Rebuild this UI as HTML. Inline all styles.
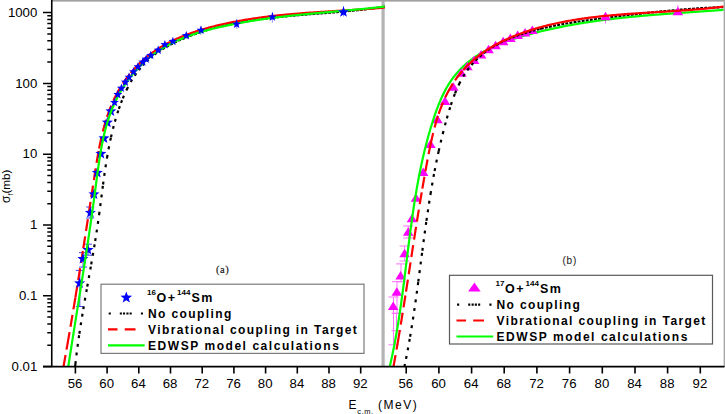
<!DOCTYPE html>
<html><head><meta charset="utf-8"><style>
html,body{margin:0;padding:0;background:#fff;}
body{width:725px;height:414px;overflow:hidden;}
svg{display:block;}
text{font-family:"Liberation Sans",sans-serif;}
</style></head><body>
<svg width="725" height="414" viewBox="0 0 725 414">
<defs><clipPath id="clipL"><rect x="52.5" y="1.5" width="332.2" height="364.5"/></clipPath>
<clipPath id="clipR"><rect x="384.7" y="1.5" width="338.9" height="364.5"/></clipPath></defs>
<rect x="0" y="0" width="725" height="414" fill="#fff"/>

<rect x="381.5" y="0" width="3.2" height="366" fill="#b4b4b4"/>
<g clip-path="url(#clipL)">
<path d="M88.0,244.2V255.2M84.0,244.2H92.0M84.0,255.2H92.0M83.0,252.6V267.1M79.0,252.6H87.0M79.0,267.1H87.0M79.8,270.4V306.5M75.8,270.4H83.8M75.8,306.5H83.8M90.2,207.0V218.0M86.2,207.0H94.2M86.2,218.0H94.2" stroke="#4040ff" stroke-width="1" fill="none"/>
<path d="M343.5,6.0V16.5M272.4,12.0V22.5M236.8,19.0V29.0M200.8,26.0V35.0" stroke="#7070ff" stroke-width="0.8"/>
<path d="M121.03,102.94 121.46,101.82 121.89,100.70 122.34,99.59 122.79,98.48 122.83,98.38M122.83,98.38 123.29,97.27 123.75,96.17 124.23,95.06 124.71,93.97 125.20,92.87 125.70,91.78 126.21,90.69 126.73,89.61 126.77,89.54M126.77,89.54 127.29,88.47 127.83,87.39 128.38,86.33 128.94,85.27 129.51,84.21 130.09,83.16 130.68,82.11 130.70,82.06M130.70,82.06 131.30,81.02 131.91,79.99 132.54,78.96 133.17,77.94 133.82,76.93 134.47,75.93 134.66,75.65M134.66,75.65 135.33,74.65 136.01,73.67 136.71,72.69 137.42,71.72 138.14,70.76 138.65,70.10M138.65,70.10 139.39,69.16 140.14,68.22 140.91,67.30 141.69,66.39 142.48,65.49 142.58,65.38M142.58,65.38 143.39,64.49 144.21,63.62 145.05,62.76 145.89,61.91 146.52,61.29M146.52,61.29 147.39,60.47 148.28,59.65 149.17,58.86 150.08,58.07 150.47,57.73M150.47,57.73 151.39,56.97 152.33,56.21 153.27,55.47 154.22,54.74 154.43,54.58M154.43,54.58 155.40,53.87 156.37,53.17 157.35,52.48 158.34,51.80 158.43,51.74M158.43,51.74 159.43,51.07 160.43,50.42 161.44,49.77 162.33,49.22M162.33,49.22 163.36,48.60 164.39,47.98 165.42,47.38 166.27,46.90M166.27,46.90 167.32,46.31 168.37,45.73 169.43,45.16 170.22,44.75M170.22,44.75 171.28,44.19 172.35,43.65 173.43,43.11 174.15,42.75M174.15,42.75 175.23,42.23 176.32,41.72 177.40,41.21 178.15,40.86M178.15,40.86 179.24,40.37 180.33,39.88 181.43,39.39 182.09,39.11M182.09,39.11 183.19,38.64 184.30,38.17 185.41,37.71 186.07,37.44M186.07,37.44 187.18,36.99 188.30,36.54 189.41,36.11 189.99,35.88M189.99,35.88 191.11,35.46 192.23,35.03 193.36,34.62 193.94,34.41M193.94,34.41 195.07,34.00 196.20,33.60 197.33,33.21 197.91,33.01M197.91,33.01 199.05,32.62 200.19,32.24 201.33,31.87 201.82,31.70M201.82,31.70 202.97,31.34 204.11,30.98 205.26,30.62 205.76,30.47M205.76,30.47 206.91,30.12 208.06,29.78 209.21,29.45 209.72,29.30M209.72,29.30 210.87,28.97 212.03,28.65 213.18,28.33 213.70,28.19M213.70,28.19 214.86,27.88 216.02,27.58 217.18,27.27 217.61,27.17M217.61,27.17 218.77,26.87 219.93,26.58 221.10,26.30 221.63,26.17M221.63,26.17 222.79,25.90 223.96,25.62 225.13,25.35 225.57,25.25M225.57,25.25 226.74,24.99 227.91,24.74 229.09,24.48 229.53,24.39M229.53,24.39 230.71,24.14 231.88,23.90 233.06,23.66 233.41,23.59M233.41,23.59 234.59,23.35 235.77,23.12 236.95,22.90 237.40,22.81M237.40,22.81 238.58,22.59 239.76,22.37 240.95,22.16 241.31,22.10M241.31,22.10 242.50,21.89 243.68,21.68 244.86,21.48 245.33,21.41M245.33,21.41 246.52,21.21 247.70,21.02 248.88,20.83 249.26,20.77M249.26,20.77 250.45,20.58 251.64,20.40 252.82,20.22 253.21,20.17M253.21,20.17 254.40,19.99 255.58,19.82 256.77,19.65 257.16,19.60M257.16,19.60 258.35,19.44 259.54,19.27 260.73,19.11 261.12,19.06M261.12,19.06 262.31,18.91 263.50,18.76 264.69,18.60 265.09,18.56M265.09,18.56 266.28,18.41 267.47,18.26 268.66,18.12 268.97,18.09M268.97,18.09 270.16,17.95 271.35,17.81 272.54,17.68 272.95,17.63M272.95,17.63 274.14,17.50 275.33,17.37 276.53,17.24 276.93,17.20M276.93,17.20 278.12,17.07 279.32,16.95 280.51,16.83 280.82,16.80M280.82,16.80 282.02,16.68 283.21,16.56 284.40,16.45 284.81,16.41M284.81,16.41 286.01,16.29 287.20,16.18 288.40,16.07 288.71,16.04M288.71,16.04 289.90,15.93 291.10,15.82 292.29,15.72 292.70,15.68M292.70,15.68 293.90,15.58 295.09,15.47 296.29,15.37 296.69,15.33M296.69,15.33 297.89,15.23 299.08,15.13 300.28,15.03 300.59,15.01M300.59,15.01 301.78,14.91 302.98,14.81 304.17,14.71 304.58,14.68M304.58,14.68 305.77,14.58 306.97,14.49 308.16,14.39 308.47,14.37M308.47,14.37 309.66,14.27 310.86,14.18 312.05,14.09 312.45,14.05M312.45,14.05 313.64,13.96 314.84,13.87 316.04,13.77 316.43,13.74M316.43,13.74 317.62,13.65 318.82,13.56 320.01,13.46 320.30,13.44M320.30,13.44 321.50,13.35 322.69,13.26 323.89,13.16 324.27,13.13M324.27,13.13 325.46,13.04 326.66,12.94 327.86,12.85 328.22,12.82M328.22,12.82 329.42,12.72 330.62,12.63 331.81,12.53 332.17,12.50M332.17,12.50 333.37,12.40 334.56,12.31 335.76,12.21 336.11,12.18M336.11,12.18 337.31,12.08 338.50,11.97 339.70,11.87 340.14,11.83M340.14,11.83 341.33,11.73 342.53,11.63 343.72,11.52 344.05,11.49M344.05,11.49 345.25,11.38 346.44,11.27 347.64,11.16 347.96,11.13M347.96,11.13 349.15,11.02 350.35,10.91 351.54,10.79 351.94,10.75M351.94,10.75 353.14,10.63 354.33,10.51 355.53,10.39 355.91,10.35M355.91,10.35 357.11,10.23 358.30,10.10 359.49,9.97 359.87,9.93M359.87,9.93 361.06,9.80 362.25,9.67 363.45,9.53 363.81,9.49M363.81,9.49 365.00,9.35 366.19,9.21 367.38,9.06 367.72,9.02M367.72,9.02 368.92,8.88 370.11,8.73 371.30,8.57 371.72,8.52M371.72,8.52 372.91,8.36 374.10,8.20 375.28,8.04 375.69,7.98M375.69,7.98 376.88,7.82 378.06,7.65 379.25,7.47 379.64,7.41M379.64,7.41 380.82,7.24 382.01,7.06 383.19,6.87 383.56,6.81M383.56,6.81 384.75,6.62 384.93,6.59" fill="none" stroke="#000" stroke-width="2.2" stroke-dasharray="2.9 5.8"/>
<path d="M63.45,366.85 63.66,365.67 63.88,364.49 64.09,363.31 64.30,362.12 64.51,360.94 64.72,359.76 64.93,358.58 65.14,357.40 65.35,356.22 65.56,355.04 65.77,353.85 65.98,352.67 66.19,351.49 66.40,350.31 66.60,349.13 66.81,347.95 67.02,346.76 67.23,345.58 67.43,344.40 67.51,343.94M67.51,343.94 67.72,342.76 67.92,341.58 68.13,340.39 68.34,339.21 68.54,338.03 68.74,336.85 68.95,335.66 69.15,334.48 69.36,333.30 69.56,332.12 69.76,330.93 69.97,329.75 70.17,328.57 70.37,327.38 70.57,326.20 70.77,325.02 70.97,323.84 71.18,322.65 71.38,321.47 71.58,320.29 71.78,319.10 71.98,317.92 72.18,316.74 72.38,315.55 72.57,314.37 72.77,313.19 72.97,312.00 73.17,310.82 73.37,309.64 73.57,308.45 73.76,307.27 73.96,306.08 74.16,304.90 74.35,303.72 74.55,302.53 74.75,301.35 74.94,300.17 75.14,298.98 75.33,297.80 75.40,297.38M75.40,297.38 75.60,296.20 75.79,295.01 75.99,293.83 76.18,292.64 76.37,291.46 76.57,290.28 76.76,289.09 76.96,287.91 77.15,286.72 77.34,285.54 77.53,284.35 77.73,283.17 77.92,281.98 78.11,280.80 78.30,279.62 78.49,278.43 78.69,277.25 78.88,276.06 79.07,274.88 79.26,273.69 79.45,272.51 79.64,271.32 79.83,270.14 80.02,268.95 80.21,267.77 80.40,266.58 80.59,265.40 80.78,264.21 80.97,263.03 81.15,261.84 81.34,260.66 81.53,259.47 81.72,258.29 81.91,257.10 82.10,255.92 82.28,254.73 82.47,253.55 82.66,252.36 82.85,251.18 83.03,249.99 83.22,248.81 83.30,248.29M83.30,248.29 83.49,247.11 83.67,245.92 83.86,244.74 84.05,243.55 84.23,242.37 84.42,241.18 84.60,240.00 84.79,238.81 84.98,237.62 85.16,236.44 85.35,235.25 85.53,234.07 85.72,232.88 85.90,231.70 86.09,230.51 86.27,229.33 86.46,228.14 86.64,226.95 86.82,225.77 87.01,224.58 87.19,223.40 87.38,222.21 87.56,221.02 87.74,219.84 87.93,218.65 88.11,217.47 88.30,216.28 88.48,215.10 88.66,213.91 88.85,212.72 89.03,211.54 89.21,210.35 89.40,209.17 89.58,207.98 89.76,206.79 89.94,205.61 90.13,204.42 90.31,203.24 90.49,202.05 90.68,200.86 90.86,199.68 91.04,198.49 91.20,197.46M91.20,197.46 91.38,196.27 91.57,195.08 91.75,193.90 91.93,192.71 92.11,191.53 92.29,190.34 92.48,189.15 92.66,187.97 92.84,186.78 93.02,185.60 93.20,184.41 93.39,183.22 93.57,182.04 93.75,180.85 93.93,179.67 94.11,178.48 94.30,177.29 94.48,176.11 94.66,174.92 94.84,173.73 95.03,172.55 95.21,171.36 95.40,170.18 95.58,168.99 95.77,167.81 95.96,166.62 96.15,165.44 96.34,164.25 96.54,163.07 96.73,161.88 96.93,160.70 97.13,159.52 97.33,158.33 97.53,157.15 97.74,155.97 97.95,154.79 98.16,153.61 98.37,152.43 98.59,151.25 98.81,150.07 99.03,148.89 99.11,148.50M99.11,148.50 99.34,147.33 99.57,146.15 99.80,144.97 100.04,143.80 100.29,142.62 100.53,141.45 100.79,140.27 101.04,139.10 101.30,137.93 101.57,136.76 101.84,135.59 102.12,134.42 102.40,133.26 102.69,132.09 102.98,130.93 103.28,129.77 103.58,128.61 103.89,127.45 104.21,126.29 104.53,125.13 104.86,123.98 105.19,122.83 105.53,121.68 105.88,120.53 106.24,119.38 106.60,118.24 106.97,117.10 107.03,116.92M107.03,116.92 107.41,115.79 107.79,114.65 108.19,113.52 108.59,112.39 109.00,111.26 109.42,110.13 109.85,109.01 110.29,107.90 110.73,106.78 111.19,105.67 111.65,104.56 112.12,103.46 112.60,102.36 113.10,101.27 113.60,100.18 114.11,99.09 114.63,98.01 114.91,97.44M114.91,97.44 115.44,96.37 115.99,95.30 116.55,94.24 117.11,93.18 117.69,92.13 118.27,91.08 118.87,90.04 119.47,89.00 120.09,87.97 120.71,86.94 121.34,85.93 121.99,84.91 122.64,83.91 122.82,83.63M122.82,83.63 123.49,82.63 124.16,81.64 124.84,80.66 125.54,79.68 126.24,78.71 126.95,77.74 127.68,76.78 128.41,75.83 129.15,74.89 129.90,73.95 130.66,73.02 130.70,72.96M130.70,72.96 131.47,72.04 132.25,71.13 133.04,70.22 133.84,69.33 134.64,68.44 135.45,67.55 136.28,66.68 137.11,65.82 137.95,64.96 138.60,64.31M138.60,64.31 139.46,63.47 140.32,62.63 141.20,61.81 142.08,61.00 142.97,60.19 143.87,59.40 144.77,58.61 145.69,57.83 146.53,57.14M146.53,57.14 147.46,56.38 148.39,55.63 149.34,54.89 150.29,54.16 151.26,53.45 152.22,52.74 153.20,52.04 154.18,51.35 154.41,51.20M154.41,51.20 155.40,50.52 156.40,49.86 157.40,49.20 158.41,48.56 159.43,47.92 160.46,47.29 161.48,46.68 162.31,46.19M162.31,46.19 163.35,45.59 164.40,45.00 165.45,44.41 166.50,43.84 167.56,43.28 168.62,42.72 169.69,42.17 170.28,41.88M170.28,41.88 171.35,41.35 172.43,40.82 173.51,40.30 174.60,39.79 175.69,39.29 176.78,38.80 177.88,38.32 178.11,38.22M178.11,38.22 179.21,37.74 180.32,37.27 181.42,36.81 182.53,36.36 183.65,35.91 184.76,35.47 185.88,35.04 186.09,34.96M186.09,34.96 187.21,34.53 188.34,34.12 189.46,33.70 190.59,33.30 191.73,32.90 192.86,32.51 193.98,32.13M193.98,32.13 195.12,31.75 196.26,31.38 197.40,31.01 198.54,30.64 199.69,30.29 200.83,29.94 201.81,29.64M201.81,29.64 202.96,29.30 204.11,28.96 205.27,28.63 206.42,28.30 207.58,27.98 208.73,27.67 209.74,27.40M209.74,27.40 210.90,27.09 212.06,26.79 213.22,26.49 214.38,26.19 215.55,25.90 216.71,25.62 217.62,25.40M217.62,25.40 218.79,25.12 219.96,24.84 221.12,24.57 222.29,24.30 223.47,24.04 224.64,23.78 225.52,23.59M225.52,23.59 226.70,23.33 227.87,23.08 229.05,22.84 230.22,22.59 231.40,22.36 232.57,22.12 233.44,21.95M233.44,21.95 234.61,21.72 235.79,21.49 236.97,21.27 238.15,21.05 239.33,20.84 240.51,20.62 241.35,20.48M241.35,20.48 242.54,20.27 243.72,20.07 244.90,19.86 246.09,19.67 247.27,19.47 248.45,19.28 249.28,19.15M249.28,19.15 250.46,18.97 251.65,18.78 252.84,18.60 254.02,18.42 255.21,18.25 256.40,18.08 257.11,17.98M257.11,17.98 258.30,17.81 259.49,17.65 260.67,17.49 261.86,17.33 263.05,17.17 264.24,17.02 265.04,16.91M265.04,16.91 266.23,16.77 267.42,16.62 268.61,16.47 269.80,16.33 271.00,16.19 272.19,16.05 272.98,15.96M272.98,15.96 274.17,15.83 275.36,15.70 276.55,15.57 277.75,15.44 278.94,15.32 280.13,15.19 280.82,15.12M280.82,15.12 282.01,15.00 283.20,14.89 284.40,14.77 285.59,14.66 286.79,14.54 287.98,14.43 288.75,14.36M288.75,14.36 289.95,14.25 291.14,14.15 292.34,14.04 293.53,13.94 294.73,13.84 295.93,13.74 296.69,13.68M296.69,13.68 297.89,13.58 299.08,13.48 300.28,13.39 301.48,13.29 302.67,13.20 303.87,13.11 304.53,13.06M304.53,13.06 305.73,12.97 306.93,12.88 308.12,12.80 309.32,12.71 310.52,12.63 311.71,12.54 312.47,12.49M312.47,12.49 313.67,12.41 314.86,12.33 316.06,12.25 317.26,12.17 318.46,12.09 319.65,12.01 320.31,11.97M320.31,11.97 321.50,11.89 322.70,11.81 323.90,11.73 325.10,11.66 326.29,11.58 327.49,11.51 328.24,11.46M328.24,11.46 329.44,11.39 330.63,11.31 331.83,11.24 333.03,11.16 334.23,11.09 335.42,11.02 336.17,10.97M336.17,10.97 337.36,10.90 338.56,10.82 339.76,10.75 340.96,10.68 342.15,10.60 343.35,10.53 344.09,10.49M344.09,10.49 345.29,10.41 346.48,10.34 347.68,10.26 348.88,10.19 350.08,10.11 351.27,10.04 351.91,10.00M351.91,10.00 353.10,9.92 354.30,9.84 355.50,9.76 356.70,9.69 357.89,9.61 359.09,9.53 359.82,9.48M359.82,9.48 361.01,9.40 362.21,9.31 363.41,9.23 364.61,9.15 365.80,9.06 367.00,8.98 367.72,8.93M367.72,8.93 368.92,8.84 370.11,8.75 371.31,8.66 372.51,8.57 373.70,8.48 374.90,8.39 375.61,8.33M375.61,8.33 376.81,8.23 378.01,8.14 379.20,8.04 380.40,7.94 381.59,7.84 382.79,7.73 383.60,7.66M383.60,7.66 384.79,7.56 384.94,7.55" fill="none" stroke="#ff0000" stroke-width="2.2" stroke-dasharray="12 5.5"/>
<polygon points="110.90,105.40 112.33,109.23 116.42,109.41 113.22,111.95 114.31,115.89 110.90,113.64 107.49,115.89 108.58,111.95 105.38,109.41 109.47,109.23" fill="#0000ff"/>
<polygon points="107.40,116.70 108.83,120.53 112.92,120.71 109.72,123.25 110.81,127.19 107.40,124.94 103.99,127.19 105.08,123.25 101.88,120.71 105.97,120.53" fill="#0000ff"/>
<polygon points="104.00,132.50 105.43,136.33 109.52,136.51 106.32,139.05 107.41,142.99 104.00,140.74 100.59,142.99 101.68,139.05 98.48,136.51 102.57,136.33" fill="#0000ff"/>
<polygon points="100.90,147.90 102.33,151.73 106.42,151.91 103.22,154.45 104.31,158.39 100.90,156.14 97.49,158.39 98.58,154.45 95.38,151.91 99.47,151.73" fill="#0000ff"/>
<polygon points="97.30,167.00 98.73,170.83 102.82,171.01 99.62,173.55 100.71,177.49 97.30,175.24 93.89,177.49 94.98,173.55 91.78,171.01 95.87,170.83" fill="#0000ff"/>
<polygon points="94.00,188.40 95.43,192.23 99.52,192.41 96.32,194.95 97.41,198.89 94.00,196.64 90.59,198.89 91.68,194.95 88.48,192.41 92.57,192.23" fill="#0000ff"/>
<polygon points="90.40,206.90 91.83,210.73 95.92,210.91 92.72,213.45 93.81,217.39 90.40,215.14 86.99,217.39 88.08,213.45 84.88,210.91 88.97,210.73" fill="#0000ff"/>
<polygon points="88.00,244.10 89.43,247.93 93.52,248.11 90.32,250.65 91.41,254.59 88.00,252.34 84.59,254.59 85.68,250.65 82.48,248.11 86.57,247.93" fill="#0000ff"/>
<polygon points="82.90,253.10 84.33,256.93 88.42,257.11 85.22,259.65 86.31,263.59 82.90,261.34 79.49,263.59 80.58,259.65 77.38,257.11 81.47,256.93" fill="#0000ff"/>
<polygon points="79.60,277.50 81.03,281.33 85.12,281.51 81.92,284.05 83.01,287.99 79.60,285.74 76.19,287.99 77.28,284.05 74.08,281.51 78.17,281.33" fill="#0000ff"/>
<path d="M68.22,366.87 68.41,365.69 68.59,364.50 68.77,363.32 68.96,362.13 69.14,360.94 69.33,359.76 69.51,358.57 69.69,357.39 69.88,356.20 70.07,355.02 70.25,353.83 70.44,352.65 70.62,351.46 70.81,350.27 71.00,349.09 71.18,347.90 71.37,346.72 71.56,345.53 71.74,344.35 71.93,343.16 72.12,341.98 72.31,340.79 72.49,339.61 72.68,338.42 72.87,337.24 73.06,336.05 73.25,334.87 73.44,333.68 73.62,332.50 73.81,331.31 74.00,330.13 74.19,328.94 74.38,327.76 74.57,326.57 74.76,325.39 74.95,324.20 75.14,323.02 75.33,321.83 75.52,320.65 75.71,319.46 75.90,318.28 76.09,317.09 76.28,315.91 76.47,314.72 76.66,313.54 76.85,312.35 77.03,311.17 77.22,309.98 77.41,308.80 77.60,307.61 77.79,306.43 77.98,305.24 78.17,304.06 78.36,302.87 78.55,301.69 78.74,300.50 78.93,299.32 79.12,298.13 79.31,296.95 79.50,295.76 79.69,294.58 79.88,293.39 80.07,292.21 80.26,291.02 80.44,289.84 80.63,288.65 80.82,287.47 81.01,286.28 81.20,285.10 81.39,283.91 81.57,282.73 81.76,281.54 81.95,280.36 82.14,279.17 82.32,277.99 82.51,276.80 82.70,275.61 82.88,274.43 83.07,273.24 83.26,272.06 83.44,270.87 83.63,269.69 83.82,268.50 84.00,267.32 84.19,266.13 84.37,264.95 84.56,263.76 84.74,262.57 84.92,261.39 85.11,260.20 85.29,259.02 85.47,257.83 85.66,256.64 85.84,255.46 86.02,254.27 86.20,253.09 86.39,251.90 86.57,250.71 86.75,249.53 86.93,248.34 87.11,247.15 87.29,245.97 87.47,244.78 87.65,243.60 87.83,242.41 88.01,241.22 88.18,240.04 88.36,238.85 88.54,237.66 88.72,236.47 88.89,235.29 89.07,234.10 89.24,232.91 89.42,231.73 89.59,230.54 89.77,229.35 89.94,228.16 90.12,226.98 90.29,225.79 90.46,224.60 90.63,223.41 90.81,222.23 90.98,221.04 91.15,219.85 91.32,218.66 91.49,217.48 91.66,216.29 91.83,215.10 91.99,213.91 92.16,212.72 92.33,211.54 92.50,210.35 92.66,209.16 92.83,207.97 92.99,206.78 93.16,205.59 93.32,204.40 93.49,203.22 93.65,202.03 93.81,200.84 93.97,199.65 94.13,198.46 94.30,197.27 94.46,196.08 94.62,194.89 94.77,193.70 94.93,192.51 95.09,191.32 95.25,190.13 95.40,188.94 95.56,187.75 95.72,186.56 95.87,185.37 96.03,184.18 96.18,182.99 96.34,181.80 96.49,180.61 96.65,179.42 96.80,178.23 96.96,177.04 97.11,175.85 97.27,174.67 97.43,173.48 97.59,172.29 97.75,171.10 97.91,169.91 98.08,168.72 98.24,167.53 98.41,166.34 98.58,165.16 98.75,163.97 98.93,162.78 99.10,161.59 99.28,160.41 99.46,159.22 99.65,158.03 99.83,156.85 100.03,155.66 100.22,154.48 100.42,153.30 100.62,152.11 100.82,150.93 101.03,149.75 101.24,148.57 101.46,147.39 101.68,146.21 101.90,145.03 102.13,143.85 102.37,142.68 102.61,141.50 102.85,140.32 103.10,139.15 103.36,137.98 103.62,136.81 103.89,135.64 104.16,134.47 104.44,133.30 104.72,132.14 105.01,130.97 105.31,129.81 105.62,128.65 105.93,127.49 106.24,126.33 106.57,125.18 106.90,124.02 107.24,122.87 107.59,121.72 107.95,120.58 108.31,119.44 108.68,118.29 109.06,117.16 109.45,116.02 109.85,114.89 110.25,113.76 110.67,112.63 111.09,111.51 111.53,110.39 111.97,109.28 112.42,108.16 112.88,107.06 113.35,105.95 113.83,104.85 114.32,103.76 114.82,102.67 115.33,101.58 115.85,100.50 116.38,99.42 116.92,98.35 117.46,97.28 118.02,96.22 118.58,95.16 119.16,94.10 119.74,93.06 120.34,92.01 120.94,90.97 121.55,89.94 122.17,88.92 122.80,87.90 123.44,86.88 124.09,85.87 124.75,84.87 125.42,83.87 126.09,82.88 126.78,81.89 127.48,80.92 128.18,79.94 128.89,78.98 129.62,78.02 130.35,77.07 131.09,76.13 131.84,75.19 132.60,74.26 133.36,73.34 134.14,72.42 134.92,71.51 135.72,70.61 136.52,69.72 137.33,68.84 138.15,67.96 138.98,67.09 139.82,66.23 140.66,65.38 141.52,64.54 142.38,63.71 143.25,62.88 144.13,62.07 145.02,61.26 145.92,60.46 146.82,59.67 147.73,58.89 148.65,58.12 149.58,57.36 150.52,56.61 151.46,55.87 152.41,55.14 153.37,54.41 154.34,53.70 155.31,53.00 156.29,52.31 157.28,51.63 158.28,50.96 159.28,50.30 160.29,49.65 161.30,49.01 162.33,48.39 163.36,47.77 164.39,47.16 165.43,46.56 166.48,45.98 167.53,45.40 168.59,44.83 169.65,44.27 170.72,43.72 171.79,43.18 172.86,42.65 173.94,42.13 175.03,41.62 176.12,41.12 177.21,40.62 178.31,40.13 179.41,39.66 180.51,39.19 181.62,38.72 182.73,38.27 183.85,37.82 184.96,37.38 186.08,36.95 187.21,36.53 188.33,36.11 189.46,35.70 190.59,35.30 191.72,34.91 192.86,34.52 193.99,34.13 195.13,33.76 196.28,33.39 197.42,33.02 198.56,32.67 199.71,32.31 200.86,31.97 202.01,31.63 203.16,31.29 204.32,30.96 205.47,30.64 206.63,30.32 207.79,30.01 208.95,29.70 210.11,29.39 211.27,29.09 212.43,28.80 213.60,28.51 214.76,28.22 215.93,27.94 217.10,27.66 218.26,27.39 219.43,27.12 220.60,26.85 221.77,26.59 222.95,26.33 224.12,26.07 225.29,25.82 226.47,25.57 227.64,25.32 228.82,25.08 229.99,24.84 231.17,24.60 232.34,24.37 233.52,24.14 234.70,23.91 235.88,23.68 237.06,23.46 238.24,23.24 239.42,23.02 240.60,22.80 241.78,22.59 242.96,22.38 244.14,22.17 245.32,21.97 246.51,21.76 247.69,21.56 248.87,21.37 250.06,21.17 251.24,20.98 252.43,20.79 253.61,20.60 254.80,20.41 255.98,20.23 257.17,20.05 258.36,19.87 259.54,19.69 260.73,19.52 261.92,19.35 263.11,19.18 264.29,19.01 265.48,18.84 266.67,18.68 267.86,18.52 269.05,18.36 270.24,18.20 271.43,18.04 272.62,17.89 273.81,17.74 275.00,17.59 276.19,17.44 277.38,17.29 278.57,17.14 279.76,17.00 280.96,16.86 282.15,16.72 283.34,16.58 284.53,16.44 285.72,16.30 286.92,16.17 288.11,16.03 289.30,15.90 290.49,15.77 291.69,15.64 292.88,15.51 294.07,15.39 295.27,15.26 296.46,15.14 297.65,15.01 298.85,14.89 300.04,14.77 301.23,14.65 302.43,14.53 303.62,14.41 304.82,14.29 306.01,14.18 307.21,14.06 308.40,13.95 309.60,13.83 310.79,13.72 311.98,13.61 313.18,13.49 314.37,13.38 315.57,13.27 316.76,13.16 317.96,13.05 319.15,12.94 320.35,12.83 321.54,12.72 322.74,12.62 323.93,12.51 325.13,12.40 326.32,12.29 327.52,12.18 328.71,12.08 329.91,11.97 331.11,11.86 332.30,11.76 333.50,11.65 334.69,11.54 335.89,11.44 337.08,11.33 338.28,11.22 339.47,11.12 340.67,11.01 341.86,10.90 343.06,10.79 344.25,10.68 345.45,10.58 346.64,10.47 347.84,10.36 349.03,10.25 350.23,10.14 351.42,10.03 352.62,9.91 353.81,9.80 355.01,9.69 356.20,9.58 357.40,9.46 358.59,9.35 359.78,9.23 360.98,9.12 362.17,9.00 363.37,8.88 364.56,8.76 365.76,8.64 366.95,8.52 368.14,8.40 369.34,8.27 370.53,8.15 371.72,8.02 372.92,7.90 374.11,7.77 375.30,7.64 376.50,7.51 377.69,7.38 378.88,7.25 380.07,7.11 381.27,6.98 382.46,6.84 383.65,6.70 384.84,6.56 384.95,6.55" fill="none" stroke="#00ff00" stroke-width="2.2"/>
<polygon points="343.50,6.30 344.93,10.13 349.02,10.31 345.82,12.85 346.91,16.79 343.50,14.54 340.09,16.79 341.18,12.85 337.98,10.31 342.07,10.13" fill="#0000ff"/>
<polygon points="272.40,12.30 273.56,15.40 276.87,15.55 274.28,17.61 275.16,20.80 272.40,18.97 269.64,20.80 270.52,17.61 267.93,15.55 271.24,15.40" fill="#0000ff"/>
<polygon points="236.60,19.50 237.76,22.60 241.07,22.75 238.48,24.81 239.36,28.00 236.60,26.17 233.84,28.00 234.72,24.81 232.13,22.75 235.44,22.60" fill="#0000ff"/>
<polygon points="201.00,25.60 202.16,28.70 205.47,28.85 202.88,30.91 203.76,34.10 201.00,32.27 198.24,34.10 199.12,30.91 196.53,28.85 199.84,28.70" fill="#0000ff"/>
<polygon points="186.30,30.90 187.46,34.00 190.77,34.15 188.18,36.21 189.06,39.40 186.30,37.57 183.54,39.40 184.42,36.21 181.83,34.15 185.14,34.00" fill="#0000ff"/>
<polygon points="172.90,36.70 174.06,39.80 177.37,39.95 174.78,42.01 175.66,45.20 172.90,43.37 170.14,45.20 171.02,42.01 168.43,39.95 171.74,39.80" fill="#0000ff"/>
<polygon points="164.90,39.90 166.06,43.00 169.37,43.15 166.78,45.21 167.66,48.40 164.90,46.57 162.14,48.40 163.02,45.21 160.43,43.15 163.74,43.00" fill="#0000ff"/>
<polygon points="158.20,45.45 159.36,48.55 162.67,48.70 160.08,50.76 160.96,53.95 158.20,52.13 155.44,53.95 156.32,50.76 153.73,48.70 157.04,48.55" fill="#0000ff"/>
<polygon points="150.80,50.68 151.96,53.79 155.27,53.93 152.68,55.99 153.56,59.19 150.80,57.36 148.04,59.19 148.92,55.99 146.33,53.93 149.64,53.79" fill="#0000ff"/>
<polygon points="146.20,54.41 147.36,57.51 150.67,57.66 148.08,59.72 148.96,62.91 146.20,61.08 143.44,62.91 144.32,59.72 141.73,57.66 145.04,57.51" fill="#0000ff"/>
<polygon points="142.80,57.43 143.96,60.53 147.27,60.67 144.68,62.74 145.56,65.93 142.80,64.10 140.04,65.93 140.92,62.74 138.33,60.67 141.64,60.53" fill="#0000ff"/>
<polygon points="138.00,62.12 139.16,65.22 142.47,65.36 139.88,67.43 140.76,70.62 138.00,68.79 135.24,70.62 136.12,67.43 133.53,65.36 136.84,65.22" fill="#0000ff"/>
<polygon points="133.50,67.04 134.66,70.14 137.97,70.29 135.38,72.35 136.26,75.54 133.50,73.71 130.74,75.54 131.62,72.35 129.03,70.29 132.34,70.14" fill="#0000ff"/>
<polygon points="129.00,72.56 130.16,75.66 133.47,75.80 130.88,77.87 131.76,81.06 129.00,79.23 126.24,81.06 127.12,77.87 124.53,75.80 127.84,75.66" fill="#0000ff"/>
<polygon points="125.40,77.48 126.56,80.59 129.87,80.73 127.28,82.79 128.16,85.99 125.40,84.16 122.64,85.99 123.52,82.79 120.93,80.73 124.24,80.59" fill="#0000ff"/>
<polygon points="121.40,83.62 122.56,86.72 125.87,86.86 123.28,88.93 124.16,92.12 121.40,90.29 118.64,92.12 119.52,88.93 116.93,86.86 120.24,86.72" fill="#0000ff"/>
<polygon points="117.80,89.88 118.96,92.98 122.27,93.12 119.68,95.19 120.56,98.38 117.80,96.55 115.04,98.38 115.92,95.19 113.33,93.12 116.64,92.98" fill="#0000ff"/>
<polygon points="114.50,97.80 115.66,100.90 118.97,101.05 116.38,103.11 117.26,106.30 114.50,104.47 111.74,106.30 112.62,103.11 110.03,101.05 113.34,100.90" fill="#0000ff"/>
<path d="M75.11,366.82 75.24,365.62 75.36,364.43 75.41,364.01M75.41,364.01 75.54,362.82 75.68,361.63 75.81,360.43 75.95,359.24 76.09,358.05 76.23,356.86 76.38,355.67 76.52,354.48 76.67,353.29 76.82,352.10 76.97,350.90 77.13,349.71 77.28,348.52 77.44,347.34 77.60,346.15 77.76,344.96 77.92,343.77 78.09,342.58 78.25,341.39 78.42,340.20 78.59,339.01 78.76,337.83 78.94,336.64 79.11,335.45 79.29,334.27 79.36,333.77M79.36,333.77 79.54,332.58 79.72,331.39 79.90,330.21 80.08,329.02 80.27,327.84 80.45,326.65 80.64,325.46 80.82,324.28 81.01,323.09 81.20,321.91 81.39,320.72 81.59,319.54 81.78,318.36 81.97,317.17 82.17,315.99 82.37,314.80 82.56,313.62 82.76,312.44 82.96,311.25 83.16,310.07 83.31,309.19M83.31,309.19 83.51,308.01 83.71,306.82 83.92,305.64 84.12,304.46 84.32,303.28 84.53,302.09 84.73,300.91 84.94,299.73 85.15,298.55 85.35,297.36 85.56,296.18 85.77,295.00 85.98,293.82 86.19,292.64 86.39,291.46 86.60,290.27 86.81,289.09 87.02,287.91 87.23,286.73 87.25,286.63M87.25,286.63 87.46,285.44 87.67,284.26 87.88,283.08 88.09,281.90 88.30,280.72 88.51,279.54 88.72,278.36 88.94,277.17 89.15,275.99 89.36,274.81 89.57,273.63 89.78,272.45 89.99,271.27 90.20,270.09 90.40,268.90 90.61,267.72 90.82,266.54 91.03,265.36 91.21,264.35M91.21,264.35 91.41,263.17 91.62,261.99 91.83,260.81 92.03,259.63 92.24,258.44 92.44,257.26 92.65,256.08 92.85,254.90 93.05,253.71 93.25,252.53 93.45,251.35 93.65,250.16 93.85,248.98 94.05,247.80 94.25,246.61 94.44,245.43 94.64,244.25 94.83,243.06 95.03,241.88 95.16,241.04M95.16,241.04 95.36,239.86 95.55,238.68 95.73,237.49 95.92,236.31 96.11,235.12 96.30,233.93 96.48,232.75 96.66,231.56 96.84,230.38 97.03,229.19 97.20,228.00 97.38,226.82 97.56,225.63 97.73,224.44 97.91,223.25 98.08,222.07 98.25,220.88 98.41,219.69 98.58,218.50 98.75,217.31 98.91,216.13 99.07,214.94 99.11,214.64M99.11,214.64 99.27,213.46 99.43,212.27 99.59,211.08 99.75,209.89 99.91,208.70 100.06,207.51 100.22,206.32 100.37,205.13 100.53,203.94 100.68,202.75 100.84,201.56 100.99,200.37 101.14,199.18 101.30,197.99 101.45,196.80 101.60,195.61 101.76,194.42 101.91,193.23 102.06,192.04 102.22,190.85 102.37,189.66 102.53,188.47 102.68,187.28 102.84,186.09 103.00,184.90 103.05,184.49M103.05,184.49 103.21,183.30 103.37,182.11 103.53,180.92 103.69,179.73 103.86,178.54 104.02,177.35 104.19,176.16 104.35,174.98 104.52,173.79 104.69,172.60 104.87,171.41 105.04,170.23 105.22,169.04 105.39,167.85 105.57,166.67 105.76,165.48 105.94,164.29 106.13,163.11 106.32,161.92 106.51,160.74 106.70,159.55 106.90,158.37 107.01,157.74M107.01,157.74 107.21,156.56 107.41,155.38 107.62,154.20 107.83,153.01 108.04,151.83 108.26,150.65 108.48,149.47 108.70,148.29 108.93,147.12 109.16,145.94 109.39,144.76 109.63,143.59 109.87,142.41 110.12,141.23 110.37,140.06 110.62,138.89 110.88,137.72 110.97,137.31M110.97,137.31 111.23,136.14 111.50,134.97 111.77,133.80 112.05,132.63 112.33,131.46 112.61,130.30 112.90,129.13 113.20,127.97 113.50,126.81 113.80,125.65 114.11,124.49 114.43,123.33 114.75,122.17 114.91,121.60M114.91,121.60 115.24,120.44 115.58,119.29 115.92,118.14 116.26,116.99 116.61,115.84 116.97,114.70 117.33,113.55 117.70,112.41 118.08,111.27 118.46,110.13 118.84,109.00 118.87,108.92M118.87,108.92 119.26,107.79 119.66,106.65 120.07,105.53 120.48,104.40 120.90,103.27 120.99,103.03" fill="none" stroke="#000" stroke-width="2.2" stroke-dasharray="2.9 5.8"/>
</g>
<g clip-path="url(#clipR)">
<path d="M401.0,263.9V281.7M396.0,263.9H406.0M396.0,281.7H406.0M397.0,281.7V313.3M392.0,281.7H402.0M392.0,313.3H402.0M393.5,297.0V344.8M388.5,297.0H398.5M388.5,344.8H398.5M396.5,313.3V330.7M391.5,313.3H401.5M391.5,330.7H401.5M408.2,226.0V238.0M403.2,226.0H413.2M403.2,238.0H413.2M404.6,246.0V261.0M399.6,246.0H409.6M399.6,261.0H409.6" stroke="#ff70ff" stroke-width="1" fill="none"/>
<path d="M605.5,12.0V23.5M677.9,5.0V14.0" stroke="#ff70ff" stroke-width="1"/>
<polygon points="437.40,114.75 442.65,123.25 432.15,123.25" fill="#ff00ff"/>
<polygon points="430.40,139.55 435.65,148.05 425.15,148.05" fill="#ff00ff"/>
<polygon points="423.20,167.45 428.45,175.95 417.95,175.95" fill="#ff00ff"/>
<polygon points="416.00,193.25 421.25,201.75 410.75,201.75" fill="#ff00ff"/>
<polygon points="412.00,213.75 417.25,222.25 406.75,222.25" fill="#ff00ff"/>
<polygon points="408.20,227.25 413.45,235.75 402.95,235.75" fill="#ff00ff"/>
<polygon points="404.60,248.75 409.85,257.25 399.35,257.25" fill="#ff00ff"/>
<polygon points="400.60,270.95 405.85,279.45 395.35,279.45" fill="#ff00ff"/>
<polygon points="396.80,287.25 402.05,295.75 391.55,295.75" fill="#ff00ff"/>
<polygon points="393.20,301.45 398.45,309.95 387.95,309.95" fill="#ff00ff"/>
<path d="M540.01,28.92 540.90,28.70M540.90,28.70 542.06,28.43 543.23,28.15 544.40,27.89 544.94,27.76M544.94,27.76 546.11,27.50 547.29,27.24 548.46,26.99 548.99,26.87M548.99,26.87 550.16,26.62 551.34,26.38 552.51,26.14 553.14,26.01M553.14,26.01 554.31,25.77 555.49,25.54 556.67,25.31 557.19,25.21M557.19,25.21 558.37,24.99 559.55,24.77 560.73,24.55 561.33,24.44M561.33,24.44 562.52,24.22 563.70,24.01 564.88,23.80 565.38,23.72M565.38,23.72 566.56,23.51 567.75,23.31 568.93,23.11 569.42,23.03M569.42,23.03 570.61,22.84 571.79,22.64 572.98,22.45 573.56,22.36M573.56,22.36 574.75,22.18 575.94,21.99 577.12,21.81 577.60,21.74M577.60,21.74 578.79,21.56 579.97,21.38 581.16,21.21 581.73,21.12M581.73,21.12 582.92,20.95 584.11,20.78 585.30,20.61 585.76,20.55M585.76,20.55 586.95,20.38 588.14,20.22 589.32,20.05 589.88,19.98M589.88,19.98 591.07,19.82 592.25,19.66 593.44,19.50 593.99,19.43M593.99,19.43 595.18,19.27 596.37,19.11 597.56,18.96 598.09,18.89M598.09,18.89 599.28,18.74 600.47,18.58 601.66,18.43 602.18,18.36M602.18,18.36 603.37,18.21 604.56,18.06 605.75,17.91 606.26,17.84M606.26,17.84 607.46,17.69 608.65,17.54 609.84,17.39 610.34,17.33M610.34,17.33 611.53,17.18 612.72,17.03 613.91,16.88 614.40,16.82M614.40,16.82 615.59,16.67 616.78,16.52 617.97,16.38 618.45,16.32M618.45,16.32 619.64,16.17 620.84,16.02 622.03,15.88 622.60,15.81M622.60,15.81 623.79,15.66 624.98,15.52 626.17,15.37 626.64,15.32M626.64,15.32 627.83,15.17 629.02,15.03 630.21,14.89 630.77,14.82M630.77,14.82 631.96,14.68 633.15,14.54 634.34,14.40 634.80,14.35M634.80,14.35 635.99,14.21 637.18,14.07 638.37,13.93 638.92,13.87M638.92,13.87 640.11,13.73 641.30,13.60 642.50,13.46 642.94,13.41M642.94,13.41 644.14,13.28 645.33,13.15 646.52,13.02 647.07,12.96M647.07,12.96 648.26,12.82 649.45,12.69 650.64,12.57 651.19,12.51M651.19,12.51 652.38,12.38 653.57,12.25 654.77,12.13 655.21,12.08M655.21,12.08 656.41,11.96 657.60,11.83 658.79,11.71 659.34,11.66M659.34,11.66 660.53,11.54 661.73,11.42 662.92,11.30 663.37,11.26M663.37,11.26 664.57,11.14 665.76,11.02 666.96,10.91 667.51,10.86M667.51,10.86 668.70,10.74 669.90,10.63 671.09,10.52 671.55,10.48M671.55,10.48 672.75,10.37 673.94,10.26 675.14,10.16 675.70,10.11M675.70,10.11 676.90,10.01 678.09,9.90 679.29,9.80 679.76,9.76M679.76,9.76 680.96,9.66 682.15,9.56 683.35,9.47 683.83,9.43M683.83,9.43 685.03,9.34 686.23,9.24 687.42,9.15 687.91,9.11M687.91,9.11 689.11,9.02 690.31,8.93 691.50,8.85 692.01,8.81M692.01,8.81 693.21,8.73 694.40,8.64 695.60,8.56 696.11,8.53M696.11,8.53 697.31,8.45 698.51,8.37 699.71,8.29 700.14,8.27M700.14,8.27 701.34,8.19 702.53,8.12 703.73,8.05 704.27,8.02M704.27,8.02 705.47,7.95 706.67,7.88 707.87,7.82 708.33,7.79M708.33,7.79 709.52,7.73 710.72,7.67 711.92,7.61 712.40,7.59M712.40,7.59 713.60,7.53 714.79,7.47 715.99,7.42 716.48,7.40M716.48,7.40 717.68,7.35 718.88,7.30 720.08,7.25 720.59,7.23M720.59,7.23 721.79,7.18 722.99,7.14 723.91,7.11" fill="none" stroke="#000" stroke-width="2.2" stroke-dasharray="2.9 5.8"/>
<path d="M389.70,366.82 389.97,365.65 390.24,364.48 390.50,363.31 390.77,362.14 391.03,360.97 391.29,359.79 391.54,358.62 391.80,357.45 392.05,356.27 392.29,355.10 392.54,353.93 392.78,352.75 393.02,351.58 393.26,350.40 393.50,349.22 393.73,348.05 393.96,346.87 394.19,345.69 394.42,344.51 394.64,343.33 394.86,342.15 395.08,340.97 395.30,339.79 395.52,338.61 395.73,337.43 395.94,336.25 396.15,335.07 396.36,333.89 396.56,332.71 396.77,331.52 396.97,330.34 397.17,329.16 397.37,327.97 397.56,326.79 397.76,325.61 397.95,324.42 398.14,323.24 398.33,322.05 398.52,320.87 398.71,319.68 398.89,318.49 399.08,317.31 399.26,316.12 399.44,314.94 399.62,313.75 399.79,312.56 399.97,311.38 400.15,310.19 400.32,309.00 400.49,307.81 400.66,306.63 400.83,305.44 401.00,304.25 401.17,303.06 401.33,301.87 401.50,300.68 401.66,299.50 401.83,298.31 401.99,297.12 402.15,295.93 402.31,294.74 402.47,293.55 402.63,292.36 402.79,291.17 402.94,289.98 403.10,288.79 403.26,287.60 403.41,286.41 403.56,285.22 403.72,284.03 403.87,282.84 404.02,281.65 404.17,280.46 404.33,279.27 404.48,278.08 404.63,276.89 404.78,275.70 404.93,274.51 405.08,273.32 405.22,272.13 405.37,270.94 405.52,269.75 405.67,268.55 405.82,267.36 405.96,266.17 406.11,264.98 406.26,263.79 406.41,262.60 406.55,261.41 406.70,260.22 406.85,259.03 407.00,257.84 407.14,256.65 407.29,255.45 407.44,254.26 407.59,253.07 407.74,251.88 407.88,250.69 408.03,249.50 408.18,248.31 408.33,247.12 408.48,245.93 408.63,244.74 408.78,243.55 408.93,242.36 409.08,241.17 409.24,239.98 409.39,238.79 409.54,237.60 409.69,236.41 409.85,235.22 410.00,234.03 410.16,232.84 410.32,231.65 410.47,230.46 410.63,229.27 410.79,228.08 410.95,226.89 411.11,225.70 411.27,224.51 411.43,223.32 411.60,222.13 411.76,220.94 411.93,219.75 412.09,218.57 412.26,217.38 412.43,216.19 412.60,215.00 412.77,213.81 412.95,212.63 413.12,211.44 413.29,210.25 413.47,209.07 413.65,207.88 413.83,206.69 414.01,205.51 414.19,204.32 414.37,203.13 414.56,201.95 414.75,200.76 414.93,199.58 415.12,198.39 415.32,197.21 415.51,196.02 415.70,194.84 415.90,193.66 416.10,192.47 416.30,191.29 416.50,190.11 416.71,188.92 416.91,187.74 417.12,186.56 417.33,185.38 417.54,184.20 417.75,183.02 417.97,181.84 418.19,180.66 418.41,179.48 418.63,178.30 418.86,177.12 419.08,175.94 419.31,174.76 419.54,173.58 419.78,172.41 420.01,171.23 420.25,170.05 420.49,168.88 420.73,167.70 420.98,166.53 421.23,165.36 421.48,164.18 421.73,163.01 421.98,161.84 422.24,160.66 422.50,159.49 422.77,158.32 423.03,157.15 423.30,155.98 423.57,154.81 423.85,153.65 424.12,152.48 424.40,151.31 424.69,150.14 424.97,148.98 425.26,147.81 425.55,146.65 425.85,145.49 426.15,144.32 426.45,143.16 426.75,142.00 427.06,140.84 427.37,139.68 427.68,138.52 428.00,137.37 428.32,136.21 428.64,135.05 428.96,133.90 429.29,132.75 429.63,131.59 429.96,130.44 430.30,129.29 430.64,128.14 430.99,126.99 431.34,125.84 431.69,124.70 432.05,123.55 432.41,122.41 432.77,121.26 433.14,120.12 433.51,118.98 433.89,117.84 434.27,116.70 434.65,115.56 435.04,114.43 435.43,113.29 435.83,112.16 436.23,111.03 436.64,109.90 437.05,108.78 437.48,107.65 437.90,106.53 438.34,105.41 438.78,104.30 439.23,103.18 439.69,102.07 440.15,100.97 440.62,99.87 441.11,98.77 441.60,97.67 442.10,96.58 442.61,95.49 443.13,94.41 443.65,93.34 444.19,92.26 444.74,91.20 445.31,90.14 445.88,89.08 446.46,88.03 447.06,86.99 447.66,85.96 448.28,84.93 448.91,83.91 449.56,82.90 450.22,81.89 450.89,80.90 451.57,79.91 452.27,78.93 452.98,77.97 453.70,77.01 454.44,76.06 455.19,75.13 455.95,74.20 456.73,73.29 457.52,72.38 458.32,71.49 459.13,70.60 459.95,69.73 460.79,68.87 461.63,68.02 462.49,67.18 463.36,66.35 464.24,65.53 465.13,64.73 466.03,63.93 466.94,63.15 467.86,62.38 468.79,61.62 469.73,60.87 470.67,60.14 471.63,59.41 472.60,58.70 473.57,58.00 474.55,57.31 475.54,56.64 476.54,55.97 477.55,55.32 478.56,54.67 479.58,54.04 480.61,53.42 481.64,52.81 482.68,52.21 483.73,51.62 484.78,51.04 485.83,50.47 486.89,49.91 487.96,49.36 489.03,48.82 490.11,48.29 491.19,47.76 492.27,47.25 493.36,46.75 494.45,46.25 495.55,45.76 496.65,45.28 497.75,44.81 498.86,44.35 499.97,43.89 501.08,43.45 502.20,43.00 503.32,42.57 504.44,42.14 505.57,41.72 506.69,41.31 507.82,40.91 508.95,40.51 510.09,40.11 511.22,39.72 512.36,39.34 513.50,38.97 514.64,38.60 515.78,38.23 516.93,37.87 518.07,37.52 519.22,37.17 520.37,36.82 521.52,36.48 522.67,36.14 523.83,35.81 524.98,35.49 526.14,35.16 527.29,34.84 528.45,34.53 529.61,34.22 530.77,33.91 531.93,33.60 533.09,33.30 534.26,33.00 535.42,32.71 536.58,32.41 537.75,32.12 538.91,31.83 540.08,31.55 541.24,31.27 542.41,30.99 543.58,30.71 544.75,30.44 545.92,30.17 547.09,29.90 548.26,29.63 549.43,29.37 550.60,29.11 551.77,28.85 552.94,28.60 554.12,28.35 555.29,28.10 556.46,27.85 557.64,27.61 558.81,27.37 559.99,27.13 561.17,26.89 562.34,26.66 563.52,26.43 564.70,26.20 565.88,25.97 567.06,25.75 568.24,25.53 569.42,25.31 570.60,25.09 571.78,24.88 572.96,24.67 574.14,24.46 575.32,24.25 576.51,24.05 577.69,23.85 578.87,23.65 580.06,23.45 581.24,23.26 582.42,23.07 583.61,22.88 584.79,22.69 585.98,22.50 587.17,22.32 588.35,22.14 589.54,21.96 590.73,21.78 591.91,21.61 593.10,21.43 594.29,21.26 595.48,21.09 596.66,20.93 597.85,20.76 599.04,20.60 600.23,20.44 601.42,20.28 602.61,20.12 603.80,19.97 604.99,19.81 606.18,19.66 607.37,19.51 608.56,19.37 609.75,19.22 610.94,19.08 612.14,18.93 613.33,18.79 614.52,18.65 615.71,18.52 616.90,18.38 618.10,18.25 619.29,18.11 620.48,17.98 621.68,17.85 622.87,17.73 624.06,17.60 625.26,17.48 626.45,17.35 627.64,17.23 628.84,17.11 630.03,16.99 631.22,16.87 632.42,16.76 633.61,16.64 634.81,16.53 636.00,16.42 637.20,16.30 638.39,16.19 639.59,16.08 640.78,15.98 641.98,15.87 643.17,15.76 644.37,15.66 645.56,15.56 646.76,15.45 647.96,15.35 649.15,15.25 650.35,15.15 651.54,15.05 652.74,14.96 653.94,14.86 655.13,14.76 656.33,14.67 657.52,14.57 658.72,14.48 659.92,14.39 661.11,14.30 662.31,14.21 663.51,14.11 664.70,14.02 665.90,13.94 667.10,13.85 668.29,13.76 669.49,13.67 670.69,13.58 671.88,13.50 673.08,13.41 674.28,13.33 675.47,13.24 676.67,13.16 677.87,13.07 679.07,12.99 680.26,12.90 681.46,12.82 682.66,12.74 683.85,12.66 685.05,12.57 686.25,12.49 687.45,12.41 688.64,12.33 689.84,12.25 691.04,12.16 692.23,12.08 693.43,12.00 694.63,11.92 695.83,11.84 697.02,11.76 698.22,11.68 699.42,11.59 700.62,11.51 701.81,11.43 703.01,11.35 704.21,11.27 705.40,11.19 706.60,11.10 707.80,11.02 709.00,10.94 710.19,10.86 711.39,10.77 712.59,10.69 713.78,10.61 714.98,10.52 716.18,10.44 717.38,10.35 718.57,10.27 719.77,10.18 720.97,10.10 722.16,10.01 723.36,9.92 724.56,9.84 724.93,9.81" fill="none" stroke="#00ff00" stroke-width="2.2"/>
<polygon points="677.90,6.75 683.15,15.25 672.65,15.25" fill="#ff00ff"/>
<polygon points="605.50,11.82 610.75,20.32 600.25,20.32" fill="#ff00ff"/>
<polygon points="532.30,25.56 537.55,34.06 527.05,34.06" fill="#ff00ff"/>
<polygon points="525.10,27.92 530.35,36.42 519.85,36.42" fill="#ff00ff"/>
<polygon points="517.70,30.61 522.95,39.11 512.45,39.11" fill="#ff00ff"/>
<polygon points="510.40,33.56 515.65,42.06 505.15,42.06" fill="#ff00ff"/>
<polygon points="503.20,36.81 508.45,45.31 497.95,45.31" fill="#ff00ff"/>
<polygon points="495.60,40.71 500.85,49.21 490.35,49.21" fill="#ff00ff"/>
<polygon points="488.60,44.83 493.85,53.33 483.35,53.33" fill="#ff00ff"/>
<polygon points="481.10,49.92 486.35,58.42 475.85,58.42" fill="#ff00ff"/>
<polygon points="474.20,55.38 479.45,63.88 468.95,63.88" fill="#ff00ff"/>
<polygon points="467.40,61.64 472.65,70.14 462.15,70.14" fill="#ff00ff"/>
<polygon points="461.40,68.25 466.65,76.75 456.15,76.75" fill="#ff00ff"/>
<polygon points="453.30,82.25 458.55,90.75 448.05,90.75" fill="#ff00ff"/>
<polygon points="445.00,96.55 450.25,105.05 439.75,105.05" fill="#ff00ff"/>
<path d="M404.40,366.81 404.64,365.64 404.89,364.46 405.13,363.29 405.37,362.11 405.61,360.93 405.84,359.76 406.03,358.85M406.03,358.85 406.26,357.67 406.49,356.49 406.72,355.32 406.95,354.14 407.17,352.96 407.39,351.78 407.62,350.60 407.84,349.42 408.05,348.24 408.27,347.06 408.49,345.88 408.70,344.70 408.91,343.52 409.12,342.34 409.33,341.16 409.54,339.97 409.74,338.79 409.95,337.61 410.10,336.70M410.10,336.70 410.30,335.52 410.50,334.33 410.70,333.15 410.90,331.97 411.09,330.78 411.29,329.60 411.48,328.41 411.67,327.23 411.86,326.04 412.05,324.86 412.24,323.67 412.43,322.49 412.61,321.30 412.80,320.12 412.98,318.93 413.16,317.74 413.34,316.56 413.52,315.37 413.70,314.19 413.88,313.00 414.05,311.81 414.18,310.95M414.18,310.95 414.36,309.76 414.53,308.58 414.71,307.39 414.88,306.20 415.05,305.01 415.22,303.83 415.39,302.64 415.56,301.45 415.73,300.26 415.89,299.07 416.06,297.89 416.23,296.70 416.39,295.51 416.56,294.32 416.72,293.13 416.89,291.94 417.05,290.75 417.21,289.56 417.37,288.38 417.53,287.19 417.70,286.00 417.86,284.81 418.02,283.62 418.18,282.43 418.27,281.70M418.27,281.70 418.43,280.51 418.59,279.32 418.75,278.13 418.91,276.94 419.06,275.75 419.22,274.56 419.38,273.37 419.54,272.18 419.69,270.99 419.85,269.80 420.01,268.61 420.16,267.42 420.32,266.23 420.47,265.04 420.63,263.85 420.79,262.66 420.94,261.47 421.10,260.28 421.25,259.09 421.41,257.90 421.57,256.71 421.72,255.52 421.88,254.33 422.04,253.14 422.19,251.96 422.35,250.77 422.35,250.73M422.35,250.73 422.51,249.54 422.67,248.35 422.83,247.16 422.98,245.97 423.14,244.78 423.30,243.59 423.46,242.40 423.62,241.21 423.78,240.02 423.94,238.83 424.10,237.64 424.26,236.46 424.42,235.27 424.59,234.08 424.75,232.89 424.91,231.70 425.08,230.51 425.24,229.32 425.41,228.13 425.57,226.95 425.74,225.76 425.91,224.57 426.07,223.38 426.24,222.19 426.41,221.00 426.44,220.84M426.44,220.84 426.61,219.65 426.78,218.46 426.95,217.27 427.12,216.09 427.30,214.90 427.47,213.71 427.65,212.53 427.83,211.34 428.00,210.15 428.18,208.97 428.36,207.78 428.54,206.59 428.73,205.41 428.91,204.22 429.09,203.03 429.28,201.85 429.47,200.66 429.65,199.48 429.84,198.29 430.03,197.11 430.23,195.92 430.42,194.74 430.53,194.03M430.53,194.03 430.73,192.84 430.93,191.66 431.12,190.48 431.32,189.29 431.52,188.11 431.73,186.93 431.93,185.74 432.14,184.56 432.34,183.38 432.55,182.20 432.76,181.02 432.97,179.84 433.18,178.65 433.40,177.47 433.61,176.29 433.83,175.11 434.05,173.93 434.27,172.75 434.50,171.58 434.61,171.00M434.61,171.00 434.83,169.82 435.06,168.64 435.29,167.46 435.52,166.29 435.75,165.11 435.99,163.93 436.22,162.76 436.46,161.58 436.70,160.40 436.95,159.23 437.19,158.05 437.44,156.88 437.69,155.71 437.94,154.53 438.19,153.36 438.45,152.19 438.69,151.06M438.69,151.06 438.95,149.89 439.21,148.72 439.48,147.55 439.74,146.38 440.01,145.21 440.28,144.04 440.55,142.87 440.83,141.70 441.11,140.53 441.39,139.37 441.67,138.20 441.95,137.04 442.24,135.87 442.53,134.71 442.78,133.72M442.78,133.72 443.07,132.55 443.37,131.39 443.66,130.23 443.97,129.07 444.27,127.91 444.58,126.74 444.89,125.59 445.20,124.43 445.51,123.27 445.83,122.11 446.15,120.95 446.47,119.80 446.79,118.64 446.87,118.37M446.87,118.37 447.20,117.21 447.53,116.06 447.86,114.91 448.20,113.76 448.54,112.61 448.88,111.46 449.23,110.31 449.58,109.16 449.94,108.01 450.30,106.87 450.66,105.72 450.95,104.84M450.95,104.84 451.32,103.70 451.70,102.56 452.09,101.42 452.48,100.29 452.88,99.16 453.28,98.03 453.70,96.90 454.12,95.78 454.54,94.66 454.98,93.54 455.04,93.38M455.04,93.38 455.49,92.27 455.95,91.16 456.41,90.05 456.88,88.95 457.37,87.85 457.86,86.76 458.37,85.67 458.89,84.59 459.13,84.08M459.13,84.08 459.67,83.00 460.21,81.93 460.77,80.87 461.34,79.81 461.92,78.77 462.51,77.72 463.12,76.69 463.23,76.52M463.23,76.52 463.85,75.49 464.49,74.48 465.14,73.47 465.81,72.47 466.48,71.48 467.18,70.50 467.29,70.35M467.29,70.35 468.00,69.38 468.72,68.42 469.45,67.47 470.20,66.53 470.96,65.60 471.41,65.07M471.41,65.07 472.19,64.16 472.99,63.26 473.79,62.37 474.61,61.49 475.44,60.62 475.47,60.60M475.47,60.60 476.31,59.75 477.16,58.91 478.03,58.08 478.91,57.26 479.55,56.68M479.55,56.68 480.45,55.88 481.35,55.10 482.27,54.33 483.20,53.57 483.67,53.19M483.67,53.19 484.62,52.45 485.57,51.73 486.54,51.02 487.51,50.32 487.72,50.18M487.72,50.18 488.70,49.49 489.70,48.82 490.70,48.17 491.72,47.52 491.87,47.42M491.87,47.42 492.90,46.79 493.92,46.18 494.96,45.57 495.95,45.01M495.95,45.01 497.00,44.43 498.05,43.86 499.11,43.30 499.98,42.85M499.98,42.85 501.05,42.31 502.13,41.78 503.21,41.26 504.13,40.83M504.13,40.83 505.22,40.34 506.32,39.85 507.42,39.37 508.20,39.03M508.20,39.03 509.31,38.57 510.42,38.11 511.53,37.67 512.26,37.38M512.26,37.38 513.38,36.95 514.51,36.53 515.63,36.11 516.39,35.84M516.39,35.84 517.52,35.44 518.66,35.05 519.79,34.66 520.49,34.43M520.49,34.43 521.63,34.05 522.77,33.69 523.91,33.32 524.53,33.13M524.53,33.13 525.68,32.78 526.83,32.44 527.98,32.10 528.61,31.92M528.61,31.92 529.77,31.59 530.92,31.26 532.08,30.95 532.72,30.77M532.72,30.77 533.88,30.46 535.04,30.16 536.21,29.86 536.75,29.72M536.75,29.72 537.92,29.43 539.08,29.14 539.91,28.94" fill="none" stroke="#000" stroke-width="2.2" stroke-dasharray="2.9 5.8"/>
<path d="M393.42,366.90 393.63,365.72 393.85,364.54 394.07,363.36 394.28,362.17 394.49,360.99 394.71,359.81 394.92,358.63 395.13,357.45 395.34,356.27 395.55,355.09 395.76,353.91 395.97,352.72 396.18,351.54 396.38,350.36 396.59,349.18 396.80,348.00 397.00,346.81 397.21,345.63 397.41,344.45 397.62,343.27 397.82,342.08 397.85,341.88M397.85,341.88 398.06,340.70 398.26,339.51 398.46,338.33 398.66,337.15 398.86,335.96 399.06,334.78 399.26,333.60 399.46,332.41 399.65,331.23 399.85,330.05 400.05,328.86 400.24,327.68 400.44,326.49 400.63,325.31 400.83,324.13 401.02,322.94 401.22,321.76 401.41,320.57 401.60,319.39 401.79,318.20 401.99,317.02 402.18,315.84 402.37,314.65 402.56,313.47 402.75,312.28 402.94,311.10 403.13,309.91 403.32,308.73 403.51,307.54 403.70,306.36 403.88,305.17 404.07,303.99 404.26,302.80 404.45,301.62 404.63,300.43 404.82,299.24 405.01,298.06 405.19,296.87 405.38,295.69 405.56,294.50 405.75,293.32 405.93,292.13 406.02,291.56M406.02,291.56 406.21,290.37 406.39,289.19 406.58,288.00 406.76,286.82 406.95,285.63 407.13,284.44 407.31,283.26 407.50,282.07 407.68,280.89 407.86,279.70 408.05,278.51 408.23,277.33 408.41,276.14 408.59,274.96 408.78,273.77 408.96,272.58 409.14,271.40 409.33,270.21 409.51,269.03 409.69,267.84 409.87,266.65 410.06,265.47 410.24,264.28 410.42,263.10 410.60,261.91 410.79,260.72 410.97,259.54 411.15,258.35 411.33,257.17 411.52,255.98 411.70,254.79 411.88,253.61 412.07,252.42 412.25,251.24 412.43,250.05 412.62,248.86 412.80,247.68 412.98,246.49 413.17,245.31 413.35,244.12 413.53,242.94 413.72,241.75 413.90,240.56 414.09,239.38 414.19,238.74M414.19,238.74 414.37,237.55 414.56,236.37 414.75,235.18 414.93,234.00 415.12,232.81 415.30,231.63 415.49,230.44 415.68,229.26 415.87,228.07 416.05,226.89 416.24,225.70 416.43,224.51 416.62,223.33 416.81,222.14 417.00,220.96 417.19,219.78 417.38,218.59 417.57,217.41 417.76,216.22 417.95,215.04 418.14,213.85 418.33,212.67 418.53,211.48 418.72,210.30 418.91,209.11 419.11,207.93 419.30,206.75 419.50,205.56 419.69,204.38 419.89,203.19 420.09,202.01 420.28,200.83 420.48,199.64 420.68,198.46 420.88,197.28 421.08,196.09 421.28,194.91 421.48,193.73 421.68,192.54 421.88,191.36 422.08,190.18 422.28,188.99 422.36,188.57M422.36,188.57 422.56,187.39 422.76,186.21 422.97,185.02 423.18,183.84 423.38,182.66 423.59,181.48 423.80,180.30 424.00,179.11 424.21,177.93 424.42,176.75 424.63,175.57 424.84,174.39 425.06,173.21 425.27,172.03 425.48,170.84 425.70,169.66 425.91,168.48 426.13,167.30 426.34,166.12 426.56,164.94 426.78,163.76 427.00,162.58 427.21,161.40 427.44,160.22 427.66,159.04 427.88,157.86 428.10,156.69 428.33,155.51 428.56,154.33 428.79,153.15 429.02,151.97 429.25,150.80 429.49,149.62 429.73,148.44 429.97,147.27 430.21,146.09 430.46,144.92 430.53,144.60M430.53,144.60 430.78,143.43 431.03,142.26 431.29,141.08 431.55,139.91 431.82,138.74 432.09,137.57 432.36,136.40 432.63,135.24 432.92,134.07 433.20,132.90 433.49,131.74 433.79,130.58 434.08,129.41 434.39,128.25 434.70,127.09 435.01,125.94 435.34,124.78 435.66,123.62 435.99,122.47 436.33,121.32 436.68,120.17 437.03,119.02 437.38,117.88 437.75,116.73 438.12,115.59 438.50,114.45 438.69,113.87M438.69,113.87 439.08,112.73 439.48,111.60 439.88,110.47 440.29,109.34 440.71,108.22 441.14,107.10 441.58,105.98 442.02,104.86 442.47,103.75 442.94,102.65 443.41,101.54 443.89,100.44 444.37,99.35 444.87,98.25 445.38,97.17 445.90,96.08 446.43,95.01 446.90,94.07M446.90,94.07 447.44,93.00 448.00,91.94 448.57,90.88 449.15,89.83 449.73,88.78 450.33,87.74 450.94,86.71 451.57,85.68 452.20,84.66 452.84,83.65 453.50,82.64 454.16,81.65 454.84,80.66 455.04,80.38M455.04,80.38 455.73,79.40 456.43,78.42 457.15,77.46 457.87,76.51 458.61,75.56 459.36,74.62 460.12,73.69 460.89,72.77 461.66,71.85 462.45,70.95 463.22,70.08M463.22,70.08 464.03,69.20 464.85,68.32 465.67,67.45 466.51,66.59 467.35,65.73 468.21,64.89 469.07,64.06 469.94,63.23 470.82,62.41 471.40,61.88M471.40,61.88 472.29,61.08 473.19,60.29 474.10,59.51 475.02,58.73 475.94,57.97 476.88,57.21 477.82,56.47 478.76,55.73 479.54,55.14M479.54,55.14 480.50,54.41 481.47,53.70 482.44,53.00 483.42,52.31 484.41,51.63 485.40,50.95 486.40,50.29 487.41,49.64 487.78,49.40M487.78,49.40 488.79,48.75 489.81,48.12 490.84,47.50 491.87,46.88 492.91,46.28 493.95,45.68 495.00,45.10 495.96,44.57M495.96,44.57 497.01,44.00 498.07,43.44 499.14,42.88 500.21,42.34 501.28,41.80 502.36,41.27 503.44,40.75 504.10,40.43M504.10,40.43 505.19,39.92 506.28,39.42 507.37,38.93 508.47,38.44 509.57,37.96 510.67,37.49 511.78,37.02 512.30,36.81M512.30,36.81 513.41,36.35 514.52,35.90 515.64,35.46 516.75,35.02 517.87,34.59 519.00,34.16 520.12,33.74 520.47,33.62M520.47,33.62 521.59,33.21 522.72,32.80 523.85,32.40 524.99,32.01 526.12,31.62 527.26,31.23 528.40,30.86 528.63,30.78M528.63,30.78 529.78,30.41 530.92,30.04 532.06,29.68 533.21,29.33 534.36,28.98 535.51,28.63 536.66,28.29 536.79,28.25M536.79,28.25 537.95,27.92 539.10,27.59 540.26,27.27 541.41,26.95 542.57,26.64 543.73,26.33 544.89,26.03 544.93,26.02M544.93,26.02 546.09,25.72 547.26,25.43 548.42,25.14 549.59,24.86 550.75,24.58 551.92,24.30 553.09,24.03 553.13,24.02M553.13,24.02 554.30,23.76 555.47,23.50 556.65,23.24 557.82,22.99 558.99,22.74 560.17,22.50 561.30,22.27M561.30,22.27 562.47,22.03 563.65,21.80 564.83,21.58 566.01,21.35 567.19,21.13 568.37,20.92 569.42,20.73M569.42,20.73 570.60,20.52 571.78,20.32 572.96,20.12 574.15,19.92 575.33,19.73 576.52,19.54 577.58,19.37M577.58,19.37 578.77,19.19 579.95,19.01 581.14,18.83 582.33,18.66 583.52,18.49 584.70,18.32 585.79,18.17M585.79,18.17 586.97,18.01 588.16,17.86 589.35,17.70 590.54,17.55 591.74,17.40 592.93,17.25 593.92,17.13M593.92,17.13 595.12,16.99 596.31,16.85 597.50,16.72 598.69,16.58 599.88,16.45 601.08,16.32 602.19,16.20M602.19,16.20 603.38,16.08 604.58,15.96 605.77,15.84 606.96,15.72 608.16,15.61 609.35,15.49 610.27,15.41M610.27,15.41 611.47,15.30 612.66,15.19 613.86,15.08 615.05,14.98 616.25,14.88 617.45,14.78 618.47,14.69M618.47,14.69 619.67,14.60 620.87,14.50 622.06,14.41 623.26,14.31 624.46,14.22 625.65,14.13 626.68,14.05M626.68,14.05 627.88,13.97 629.08,13.88 630.28,13.80 631.47,13.71 632.67,13.63 633.87,13.55 634.80,13.48M634.80,13.48 636.00,13.40 637.19,13.32 638.39,13.25 639.59,13.17 640.79,13.09 641.98,13.02 643.01,12.95M643.01,12.95 644.21,12.88 645.41,12.80 646.60,12.73 647.80,12.65 649.00,12.58 650.20,12.51 651.11,12.45M651.11,12.45 652.31,12.38 653.51,12.31 654.71,12.24 655.90,12.16 657.10,12.09 658.30,12.02 659.30,11.96M659.30,11.96 660.50,11.89 661.70,11.82 662.90,11.74 664.09,11.67 665.29,11.60 666.49,11.53 667.47,11.47M667.47,11.47 668.67,11.39 669.87,11.32 671.07,11.24 672.27,11.17 673.46,11.09 674.66,11.01 675.62,10.95M675.62,10.95 676.82,10.87 678.02,10.79 679.21,10.71 680.41,10.63 681.61,10.55 682.80,10.47 683.83,10.40M683.83,10.40 685.03,10.31 686.23,10.22 687.42,10.14 688.62,10.05 689.82,9.96 691.01,9.86 692.01,9.79M692.01,9.79 693.21,9.69 694.40,9.60 695.60,9.50 696.79,9.40 697.99,9.30 699.19,9.19 700.14,9.11M700.14,9.11 701.34,9.00 702.53,8.89 703.73,8.78 704.92,8.67 706.12,8.55 707.31,8.43 708.32,8.33M708.32,8.33 709.52,8.21 710.71,8.09 711.90,7.96 713.10,7.83 714.29,7.70 715.48,7.56 716.54,7.44M716.54,7.44 717.73,7.30 718.92,7.16 720.12,7.01 721.31,6.86 722.50,6.71 723.69,6.56 724.69,6.42M724.69,6.42 724.98,6.39" fill="none" stroke="#ff0000" stroke-width="2.2" stroke-dasharray="12 5.5"/>
</g>
<rect x="52" y="0" width="673" height="1.6" fill="#a0a0a0"/>
<rect x="723.6" y="0" width="1.4" height="367" fill="#a8a8a8"/>
<path d="M51.75,0V367.4M43,366.6H724.5" stroke="#000" stroke-width="1.6" fill="none"/>
<path d="M43,12.6H52M47.3,62.1H52M47.3,49.6H52M47.3,40.8H52M47.3,33.9H52M47.3,28.3H52M47.3,23.6H52M47.3,19.5H52M47.3,15.8H52M43,83.4H52M47.3,132.9H52M47.3,120.4H52M47.3,111.6H52M47.3,104.7H52M47.3,99.1H52M47.3,94.4H52M47.3,90.3H52M47.3,86.6H52M43,154.2H52M47.3,203.7H52M47.3,191.2H52M47.3,182.4H52M47.3,175.5H52M47.3,169.9H52M47.3,165.2H52M47.3,161.1H52M47.3,157.4H52M43,225.0H52M47.3,274.5H52M47.3,262.0H52M47.3,253.2H52M47.3,246.3H52M47.3,240.7H52M47.3,236.0H52M47.3,231.9H52M47.3,228.2H52M43,295.8H52M47.3,345.3H52M47.3,332.8H52M47.3,324.0H52M47.3,317.1H52M47.3,311.5H52M47.3,306.8H52M47.3,302.7H52M47.3,299.0H52M43,366.6H52" stroke="#000" stroke-width="1.5" fill="none"/>
<path d="M75.4,366.6V373.6M406.2,366.6V373.6M107.1,366.6V373.6M438.9,366.6V373.6M138.8,366.6V373.6M471.6,366.6V373.6M170.5,366.6V373.6M504.2,366.6V373.6M202.2,366.6V373.6M536.9,366.6V373.6M233.9,366.6V373.6M569.6,366.6V373.6M265.6,366.6V373.6M602.3,366.6V373.6M297.3,366.6V373.6M635.0,366.6V373.6M329.0,366.6V373.6M667.6,366.6V373.6M360.7,366.6V373.6M700.3,366.6V373.6" stroke="#000" stroke-width="1.6" fill="none"/>
<text transform="translate(37.3,16.8) scale(1.1,1)" font-size="12" text-anchor="end" fill="#000">1000</text>
<text transform="translate(37.3,87.6) scale(1.1,1)" font-size="12" text-anchor="end" fill="#000">100</text>
<text transform="translate(37.3,158.4) scale(1.1,1)" font-size="12" text-anchor="end" fill="#000">10</text>
<text transform="translate(37.3,229.2) scale(1.1,1)" font-size="12" text-anchor="end" fill="#000">1</text>
<text transform="translate(37.3,300.0) scale(1.1,1)" font-size="12" text-anchor="end" fill="#000">0.1</text>
<text transform="translate(37.3,370.8) scale(1.1,1)" font-size="12" text-anchor="end" fill="#000">0.01</text>
<text transform="translate(75.0,388.4) scale(1.1,1)" font-size="12" text-anchor="middle" fill="#000">56</text>
<text transform="translate(405.8,388.4) scale(1.1,1)" font-size="12" text-anchor="middle" fill="#000">56</text>
<text transform="translate(106.7,388.4) scale(1.1,1)" font-size="12" text-anchor="middle" fill="#000">60</text>
<text transform="translate(438.5,388.4) scale(1.1,1)" font-size="12" text-anchor="middle" fill="#000">60</text>
<text transform="translate(138.4,388.4) scale(1.1,1)" font-size="12" text-anchor="middle" fill="#000">64</text>
<text transform="translate(471.2,388.4) scale(1.1,1)" font-size="12" text-anchor="middle" fill="#000">64</text>
<text transform="translate(170.1,388.4) scale(1.1,1)" font-size="12" text-anchor="middle" fill="#000">68</text>
<text transform="translate(503.8,388.4) scale(1.1,1)" font-size="12" text-anchor="middle" fill="#000">68</text>
<text transform="translate(201.8,388.4) scale(1.1,1)" font-size="12" text-anchor="middle" fill="#000">72</text>
<text transform="translate(536.5,388.4) scale(1.1,1)" font-size="12" text-anchor="middle" fill="#000">72</text>
<text transform="translate(233.5,388.4) scale(1.1,1)" font-size="12" text-anchor="middle" fill="#000">76</text>
<text transform="translate(569.2,388.4) scale(1.1,1)" font-size="12" text-anchor="middle" fill="#000">76</text>
<text transform="translate(265.2,388.4) scale(1.1,1)" font-size="12" text-anchor="middle" fill="#000">80</text>
<text transform="translate(601.9,388.4) scale(1.1,1)" font-size="12" text-anchor="middle" fill="#000">80</text>
<text transform="translate(296.9,388.4) scale(1.1,1)" font-size="12" text-anchor="middle" fill="#000">84</text>
<text transform="translate(634.6,388.4) scale(1.1,1)" font-size="12" text-anchor="middle" fill="#000">84</text>
<text transform="translate(328.6,388.4) scale(1.1,1)" font-size="12" text-anchor="middle" fill="#000">88</text>
<text transform="translate(667.2,388.4) scale(1.1,1)" font-size="12" text-anchor="middle" fill="#000">88</text>
<text transform="translate(360.3,388.4) scale(1.1,1)" font-size="12" text-anchor="middle" fill="#000">92</text>
<text transform="translate(699.9,388.4) scale(1.1,1)" font-size="12" text-anchor="middle" fill="#000">92</text>
<text x="348.6" y="409.3" font-size="12" fill="#000">E</text>
<text x="357.2" y="414" font-size="7.5" fill="#000" letter-spacing="0.6">c.m.</text>
<text x="378" y="409.3" font-size="12" fill="#000" letter-spacing="1.5">(MeV)</text>
<g transform="translate(10.3,203.0) rotate(-90)"><text x="0" y="0" font-size="12" fill="#000">σ<tspan font-size="7.5" dy="2.8">f</tspan><tspan dy="-2.8" font-size="11.6">(mb)</tspan></text></g>
<text x="216" y="273" font-size="10.5" fill="#111" stroke="#111" stroke-width="0.15" style="font-family:'Liberation Serif',serif" letter-spacing="0.6">(a)</text>
<text x="562.6" y="263.5" font-size="10" fill="#111" letter-spacing="0.7">(b)</text>
<rect x="101.0" y="284.2" width="263.0" height="69.2" fill="#fff" stroke="#7a7a7a" stroke-width="1.2"/>
<polygon points="126.30,291.50 127.81,295.53 132.10,295.71 128.74,298.39 129.89,302.54 126.30,300.16 122.71,302.54 123.86,298.39 120.50,295.71 124.79,295.53" fill="#0000ff"/>
<g font-weight="bold" fill="#000">
<text x="146.9" y="295.1" font-size="8" letter-spacing="0.1">16</text>
<text x="156.4" y="301.7" font-size="12.5">O</text>
<text x="167.7" y="301.7" font-size="12.5">+</text>
<text x="176.9" y="295.1" font-size="8" letter-spacing="0.1">144</text>
<text x="191.4" y="301.7" font-size="12.5" letter-spacing="1.6">Sm</text>
</g>
<text x="148.0" y="318.3" font-size="12" font-weight="bold" letter-spacing="1.4" fill="#000">No coupling</text>
<text x="148.0" y="334.0" font-size="12" font-weight="bold" letter-spacing="1.4" fill="#000">Vibrational coupling in Target</text>
<text x="148.0" y="349.8" font-size="12" font-weight="bold" letter-spacing="1.55" fill="#000">EDWSP model calculations</text>
<path d="M108.7,313.5h2.1M119.8,313.5h2.1M123.0,313.5h2.1M126.4,313.5h2.1M129.6,313.5h2.1M140.9,313.5h2.1" stroke="#000" stroke-width="2.1" fill="none"/>
<path d="M108.0,329.4H144.6" stroke="#ff0000" stroke-width="2.2" stroke-dasharray="9.5 7.2 10.8 20" fill="none"/>
<path d="M108.0,345.4H144.6" stroke="#00ff00" stroke-width="2.2" fill="none"/>
<rect x="449.5" y="275.3" width="263.0" height="68.7" fill="#fff" stroke="#5a5a5a" stroke-width="1.2"/>
<polygon points="474.40,282.40 480.65,291.60 468.15,291.60" fill="#ff00ff"/>
<g font-weight="bold" fill="#000">
<text x="495.4" y="286.2" font-size="8" letter-spacing="0.1">17</text>
<text x="504.9" y="292.8" font-size="12.5">O</text>
<text x="516.2" y="292.8" font-size="12.5">+</text>
<text x="525.4" y="286.2" font-size="8" letter-spacing="0.1">144</text>
<text x="539.9" y="292.8" font-size="12.5" letter-spacing="1.6">Sm</text>
</g>
<text x="496.5" y="309.4" font-size="12" font-weight="bold" letter-spacing="1.4" fill="#000">No coupling</text>
<text x="496.5" y="325.1" font-size="12" font-weight="bold" letter-spacing="1.4" fill="#000">Vibrational coupling in Target</text>
<text x="496.5" y="340.9" font-size="12" font-weight="bold" letter-spacing="1.55" fill="#000">EDWSP model calculations</text>
<path d="M457.1,304.6h2.1M468.2,304.6h2.1M471.6,304.6h2.1M474.8,304.6h2.1M478.1,304.6h2.1M489.4,304.6h2.1" stroke="#000" stroke-width="2.1" fill="none"/>
<path d="M456.5,320.5H493.1" stroke="#ff0000" stroke-width="2.2" stroke-dasharray="9.5 7.2 10.8 20" fill="none"/>
<path d="M456.5,336.5H493.1" stroke="#00ff00" stroke-width="2.2" fill="none"/>
</svg></body></html>
